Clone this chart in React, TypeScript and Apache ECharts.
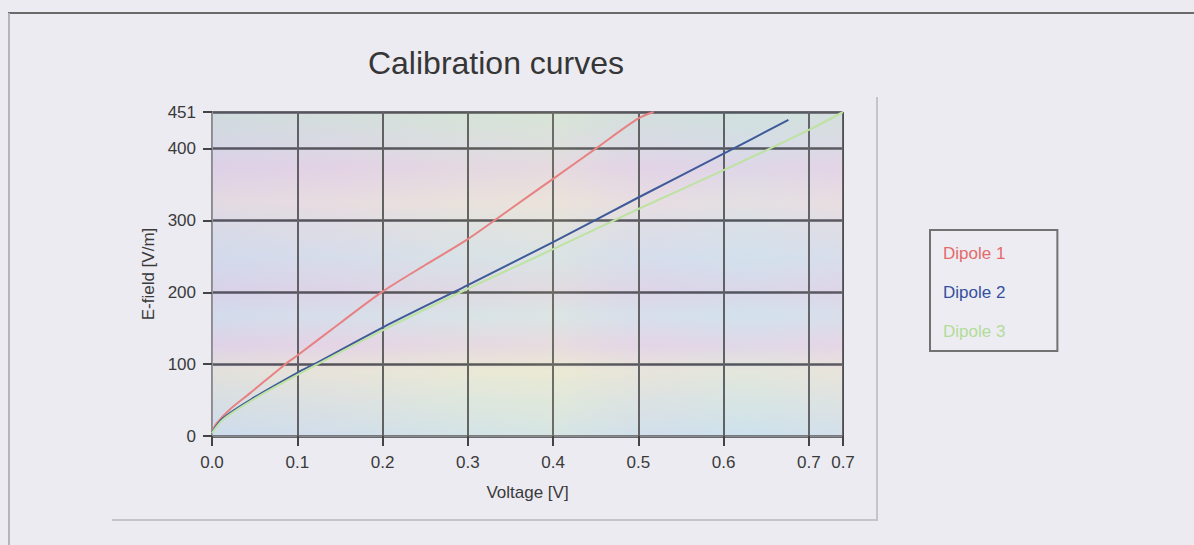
import React, { useEffect, useRef } from "react";
import * as echarts from "echarts";

const titleText = "Calibration curves";
const xAxisName = "Voltage [V]";
const yAxisName = "E-field [V/m]";
const seriesNames = ["Dipole 1", "Dipole 2", "Dipole 3"];
const seriesColors = ["#e88282", "#3f5a98", "#bde2a2"];
const legendColors = ["#e46a6a", "#34509e", "#b2dc98"];

const xMin = 0;
const xMax = 0.74;
const xInterval = 0.1;
const yMin = 0;
const yMax = 451;
const yInterval = 100;

const dipole1V = [0, 0.005, 0.02, 0.045, 0.086, 0.1, 0.15, 0.2, 0.25, 0.3, 0.35, 0.4, 0.45, 0.5, 0.518];
const dipole1E = [6, 17, 36, 60, 100, 112, 157, 201, 238, 274, 316, 358, 400, 442, 451];

const dipole2V = [0, 0.013, 0.05, 0.1, 0.12, 0.2, 0.3, 0.4, 0.5, 0.6, 0.676];
const dipole2E = [5, 25, 54, 88, 100, 151, 210, 270, 332, 393, 440];

const dipole3V = [0, 0.013, 0.05, 0.1, 0.2, 0.3, 0.4, 0.5, 0.6, 0.7, 0.74];
const dipole3E = [4, 23, 52, 85, 147, 205, 260, 316, 370, 426, 451];

const seriesV = [dipole1V, dipole2V, dipole3V];
const seriesE = [dipole1E, dipole2E, dipole3E];

const FONT = "'Liberation Sans', Arial, sans-serif";

export default function App() {
  const ref = useRef<HTMLDivElement>(null);

  useEffect(() => {
    if (!ref.current) return;
    const chart = echarts.init(ref.current, null, { renderer: "svg" });

    const gridLeft = 212;
    const gridTop = 112;
    const gridRight = 1194 - 843;
    const gridBottom = 545 - 436;

    const bg = new echarts.graphic.LinearGradient(0, 0, 0, 1, [
      { offset: 0, color: "#d0e2da" },
      { offset: 0.1, color: "#d8dce4" },
      { offset: 0.17, color: "#e2d4e6" },
      { offset: 0.28, color: "#e8e0e0" },
      { offset: 0.36, color: "#dce0e6" },
      { offset: 0.45, color: "#d4e0ec" },
      { offset: 0.55, color: "#dcd6e8" },
      { offset: 0.63, color: "#d4e2ec" },
      { offset: 0.72, color: "#e4d6e6" },
      { offset: 0.8, color: "#e8e8d8" },
      { offset: 0.88, color: "#dce6e0" },
      { offset: 1, color: "#cee2ec" },
    ]);

    const overlay = new echarts.graphic.LinearGradient(0, 0, 1, 0, [
      { offset: 0, color: "rgba(200,190,235,0.18)" },
      { offset: 0.2, color: "rgba(230,200,225,0.15)" },
      { offset: 0.4, color: "rgba(240,235,200,0.15)" },
      { offset: 0.55, color: "rgba(245,240,195,0.2)" },
      { offset: 0.7, color: "rgba(225,205,235,0.15)" },
      { offset: 0.85, color: "rgba(200,225,240,0.15)" },
      { offset: 1, color: "rgba(235,210,230,0.18)" },
    ]);

    const option: any = {
      animation: false,
      backgroundColor: "#ecebf2",
      title: {
        text: titleText,
        left: 491,
        top: 42,
        textAlign: "center",
        textStyle: {
          fontFamily: FONT,
          fontSize: 32,
          fontWeight: "normal",
          color: "#363636",
        },
      },
      legend: {
        orient: "vertical",
        left: 930,
        top: 230,
        icon: "none",
        itemWidth: 0,
        itemHeight: 0,
        itemGap: 22,
        padding: [15, 52, 11, 8],
        borderColor: "#727272",
        borderWidth: 2,
        backgroundColor: "#edecf3",
        data: seriesNames.map((n, i) => ({
          name: n,
          textStyle: { color: legendColors[i] },
        })),
        textStyle: { fontFamily: FONT, fontSize: 17 },
      },
      grid: {
        show: true,
        left: gridLeft,
        right: gridRight,
        top: gridTop,
        bottom: gridBottom,
        backgroundColor: bg,
        borderWidth: 0,
        containLabel: false,
      },
      xAxis: {
        type: "value",
        min: xMin,
        max: xMax,
        interval: xInterval,
        name: xAxisName,
        nameLocation: "middle",
        nameGap: 48,
        nameTextStyle: { fontFamily: FONT, fontSize: 17, color: "#3a3a3a" },
        axisLine: { show: true, lineStyle: { color: "#8a8a8a", width: 1 } },
        axisTick: { show: true, length: 10, lineStyle: { color: "#444", width: 2 } },
        axisLabel: {
          fontFamily: FONT,
          fontSize: 17,
          color: "#3a3a3a",
          margin: 18,
          showMaxLabel: true,
          formatter: (v: number) => v.toFixed(1),
        },
        splitLine: { show: true, lineStyle: { color: "#4a4d4d", width: 2 } },
      },
      yAxis: {
        type: "value",
        min: yMin,
        max: yMax,
        interval: yInterval,
        name: yAxisName,
        nameLocation: "middle",
        nameGap: 38,
        nameRotate: 90,
        nameTextStyle: { fontFamily: FONT, fontSize: 17, color: "#3a3a3a" },
        axisLine: { show: true, lineStyle: { color: "#8a8a8a", width: 2 } },
        axisTick: { show: true, length: 9, lineStyle: { color: "#444", width: 2 } },
        axisLabel: {
          fontFamily: FONT,
          fontSize: 17,
          color: "#3a3a3a",
          margin: 16,
          showMaxLabel: true,
          formatter: (v: number) => String(Math.round(v)),
        },
        splitLine: { show: true, lineStyle: { color: "#3c3e44", width: 2.5 } },
      },
      graphic: [
        {
          type: "rect",
          z: 1,
          silent: true,
          shape: { x: gridLeft, y: gridTop, width: 1194 - gridRight - gridLeft, height: 545 - gridBottom - gridTop },
          style: { fill: overlay },
        },
        {
          type: "line",
          silent: true,
          shape: { x1: 8, y1: 13, x2: 1194, y2: 13 },
          style: { stroke: "#6a6a6a", lineWidth: 2 },
        },
        {
          type: "line",
          silent: true,
          shape: { x1: 9, y1: 13, x2: 9, y2: 545 },
          style: { stroke: "#b4b4bc", lineWidth: 2 },
        },
        {
          type: "line",
          silent: true,
          shape: { x1: 877, y1: 97, x2: 877, y2: 521 },
          style: { stroke: "#c4c4cc", lineWidth: 2 },
        },
        {
          type: "line",
          silent: true,
          shape: { x1: 112, y1: 520, x2: 877, y2: 520 },
          style: { stroke: "#c4c4cc", lineWidth: 2 },
        },
      ],
      series: seriesNames.map((name, i) => ({
        name,
        type: "line",
        showSymbol: false,
        smooth: 0.3,
        z: 3,
        lineStyle: { color: seriesColors[i], width: 2 },
        itemStyle: { color: seriesColors[i] },
        data: seriesV[i].map((v, j) => [v, seriesE[i][j]]),
      })),
    };

    chart.setOption(option);
    return () => chart.dispose();
  }, []);

  return (
    <div
      ref={ref}
      style={{ position: "fixed", left: 0, top: 0, width: 1194, height: 545 }}
    />
  );
}
